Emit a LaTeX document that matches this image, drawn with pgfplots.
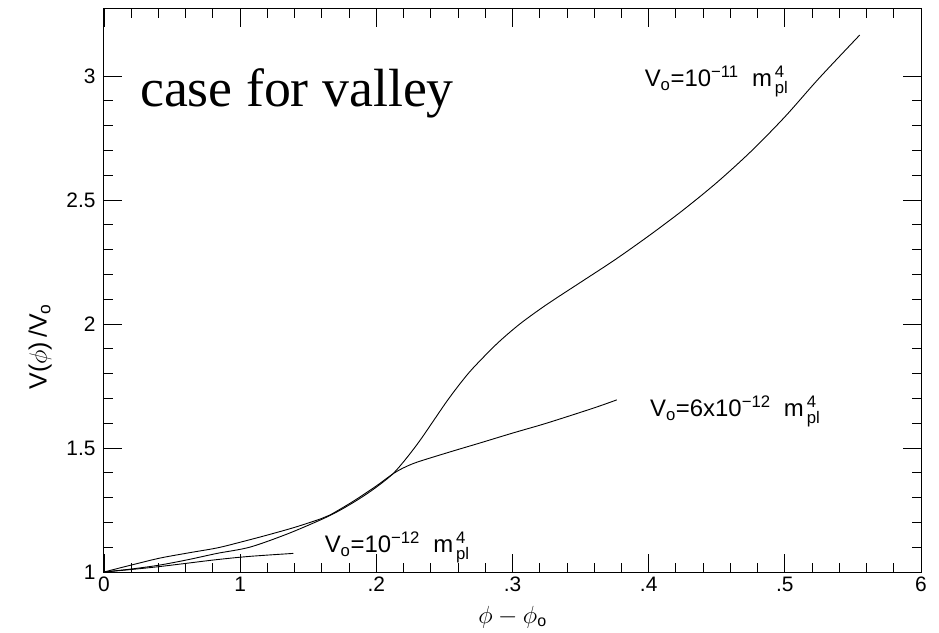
\documentclass[border=0pt]{standalone}
\usepackage{fontspec}
\setmainfont{Liberation Sans}
\setmathrm{Liberation Sans}
\newfontfamily\timesfont{Liberation Serif}
\usepackage{pgfplots}
\pgfplotsset{compat=1.18}

\pgfplotstableread{
x y
0 1
0.02 1.012
0.041 1.028
0.062 1.05
0.083 1.075
0.107 1.10
0.134 1.152
0.159 1.21
0.172 1.245
0.186 1.29
0.199 1.338
0.212 1.395
0.222 1.458
0.232 1.53
0.242 1.61
0.252 1.69
0.262 1.763
0.271 1.822
0.2885 1.92
0.3054 2.0
0.325 2.078
0.35 2.168
0.375 2.258
0.40 2.355
0.425 2.458
0.45 2.57
0.475 2.695
0.50 2.835
0.525 2.99
0.555 3.165
}\curveA

\pgfplotstableread{
x y
0 1
0.02 1.028
0.041 1.056
0.062 1.077
0.083 1.097
0.10 1.12
0.12 1.149
0.14 1.18
0.159 1.214
0.166 1.23
0.183 1.285
0.20 1.347
0.212 1.395
0.22 1.42
0.23 1.443
0.254 1.484
0.276 1.52
0.30 1.56
0.325 1.60
0.359 1.66
0.3766 1.694
}\curveB

\pgfplotstableread{
x y
0 1
0.02 1.01
0.041 1.022
0.062 1.036
0.083 1.05
0.107 1.063
0.139 1.075
}\curveC

% label text: V_o = value, then the Planck-mass unit
\newcommand{\mpl}{$\mathrm{m}^{\,\mathrm{4}}_{\,\mathrm{pl}}$}

\begin{document}
\begin{tikzpicture}
\path[use as bounding box] (-104bp,-61bp) rectangle (835bp,572bp);
\begin{axis}[
  at={(0,0)}, anchor=south west,
  scale only axis, width=817bp, height=563bp,
  xmin=0, xmax=0.6, ymin=1, ymax=3.27,
  xtick={0,0.1,0.2,0.3,0.4,0.5,0.6},
  xticklabels={0,1,.2,.3,.4,.5,6},
  ytick={1,1.5,2,2.5,3},
  yticklabels={1,1.5,2,2.5,3},
  minor x tick num=4, minor y tick num=4,
  tick align=inside,
  major tick length=18bp, minor tick length=9bp,
  axis line style={line width=1bp},
  every tick/.style={black, line width=0.9bp},
  tick label style={font=\fontsize{21}{24}\selectfont},
  xticklabel style={inner sep=0pt, yshift=-5bp},
  yticklabel style={xshift=-5bp},
  /pgf/number format/assume math mode=true,
  xlabel={$\phi-\phi_{\mathrm{o}}$},
  ylabel={V($\phi$)\,/V\textsubscript{o}},
  xlabel style={font=\fontsize{23}{28}\selectfont, inner sep=0pt,
    at={(axis description cs:0.5,0)}, anchor=base, yshift=-51bp},
  ylabel style={font=\fontsize{25}{30}\selectfont, at={(axis description cs:-0.078,0.40)}, anchor=center},
  clip=false,
]
\addplot[black, line width=0.9bp, smooth] table {\curveA};
\addplot[black, line width=0.9bp, smooth] table {\curveB};
\addplot[black, line width=0.9bp, smooth] table {\curveC};

\node[anchor=base west, inner sep=0pt] at (axis cs:0.0264,2.875)
  {\fontsize{54}{60}\selectfont\timesfont case for valley};
\node[anchor=base west, inner sep=0pt, font=\fontsize{24}{28}\selectfont] at (axis cs:0.397,2.956)
  {V\textsubscript{o}=10\textsuperscript{−11}\ \ \mpl};
\node[anchor=base west, inner sep=0pt, font=\fontsize{24}{28}\selectfont] at (axis cs:0.401,1.625)
  {V\textsubscript{o}=6x10\textsuperscript{−12}\ \ \mpl};
\node[anchor=base west, inner sep=0pt, font=\fontsize{24}{28}\selectfont] at (axis cs:0.162,1.077)
  {V\textsubscript{o}=10\textsuperscript{−12}\ \ \mpl};
\end{axis}
\end{tikzpicture}
\end{document}
